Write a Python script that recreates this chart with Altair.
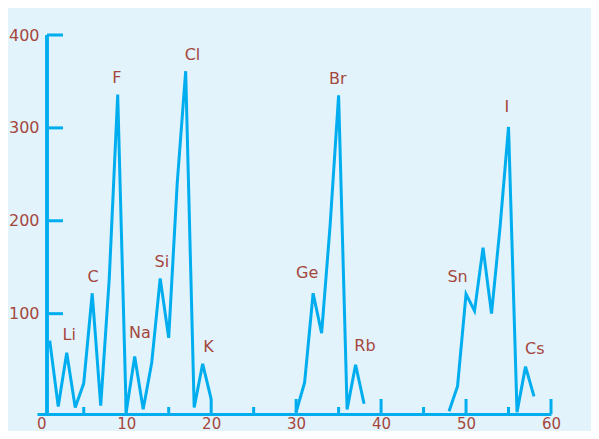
import altair as alt
import pandas as pd

# ---- data ----
seg1_z = list(range(1, 21))
seg1_v = [71, 0, 58, -1, 25, 122, 1, 137, 336, -6, 54, -3, 47, 138, 74, 240, 361, -1, 46, 8]
seg2_z = list(range(30, 39))
seg2_v = [-6, 26, 122, 79, 195, 335, -3, 45, 3]
seg3_z = list(range(48, 59))
seg3_v = [-5, 22, 121, 103, 171, 100, 193, 301, -6, 43, 11]

label_text = ["Li", "C", "F", "Na", "Si", "Cl", "K", "Ge", "Br", "Rb", "Sn", "I", "Cs"]
label_x = [3.3, 6.1, 8.9, 11.6, 14.2, 17.8, 19.7, 31.3, 34.9, 38.1, 49.0, 54.8, 58.1]
label_y = [77, 140, 354, 79, 156, 379, 64, 144, 353, 65, 139, 323, 62]

y_ticks = [100, 200, 300, 400]
x_labels = [0, 10, 20, 30, 40, 50, 60]
x_minor = [5, 15, 25, 35, 45, 55]
x_major = [10, 20, 30, 40, 50, 60]

LINE = "#00aeef"
TXT = "#a5473d"
BG = "#e2f3fc"
FONT = "DejaVu Sans"

W, H = 514, 379

df = pd.DataFrame({
    "z": seg1_z + seg2_z + seg3_z,
    "val": seg1_v + seg2_v + seg3_v,
    "seg": ["a"] * len(seg1_z) + ["b"] * len(seg2_z) + ["c"] * len(seg3_z),
})
labels = pd.DataFrame({"t": label_text, "lx": label_x, "ly": label_y})
yt = pd.DataFrame({"v": y_ticks})
xmin = pd.DataFrame({"t": x_minor})
xmaj = pd.DataFrame({"t": x_major})

x_scale = alt.Scale(domain=[-0.5, 60], nice=False, zero=False)
y_scale = alt.Scale(domain=[-8, 400], nice=False, zero=False)

line = alt.Chart(df).mark_line(color=LINE, strokeWidth=3).encode(
    x=alt.X("z:Q", scale=x_scale, axis=alt.Axis(
        values=x_labels, title=None, grid=False, ticks=False, tickSize=0,
        domainColor=LINE, domainWidth=3, labelColor=TXT, labelFont=FONT,
        labelFontSize=15, labelPadding=2, labelFlush=False)),
    y=alt.Y("val:Q", scale=y_scale, axis=alt.Axis(
        values=y_ticks, title=None, grid=False, ticks=False, tickSize=0,
        domain=False, labelColor=TXT, labelFont=FONT, labelFontSize=16,
        labelPadding=-2)),
    detail="seg:N",
)

yaxis_line = alt.Chart(yt).mark_rule(color=LINE, strokeWidth=3).encode(
    x=alt.value(10), y=alt.value(0), y2=alt.value(H)
)
ytick_rules = alt.Chart(yt).mark_rule(color=LINE, strokeWidth=3).encode(
    y=alt.Y("v:Q", scale=y_scale),
    x=alt.value(10), x2=alt.value(26),
)
xminor_rules = alt.Chart(xmin).mark_rule(color=LINE, strokeWidth=3).encode(
    x=alt.X("t:Q", scale=x_scale),
    y=alt.value(H), y2=alt.value(H - 7),
)
xmajor_rules = alt.Chart(xmaj).mark_rule(color=LINE, strokeWidth=3).encode(
    x=alt.X("t:Q", scale=x_scale),
    y=alt.value(H), y2=alt.value(H - 15),
)
text = alt.Chart(labels).mark_text(
    font=FONT, fontSize=16, color=TXT, align="center", baseline="middle"
).encode(
    x=alt.X("lx:Q", scale=x_scale),
    y=alt.Y("ly:Q", scale=y_scale),
    text="t:N",
)

chart = alt.layer(
    line, xminor_rules, xmajor_rules, yaxis_line, ytick_rules, text
).properties(
    width=W, height=H,
    autosize="none",
    padding={"left": 29, "top": 27, "right": 40, "bottom": 17},
    background=BG,
).configure_view(stroke=None)

chart.save("out.html", embed_options={"renderer": "svg", "actions": False})
